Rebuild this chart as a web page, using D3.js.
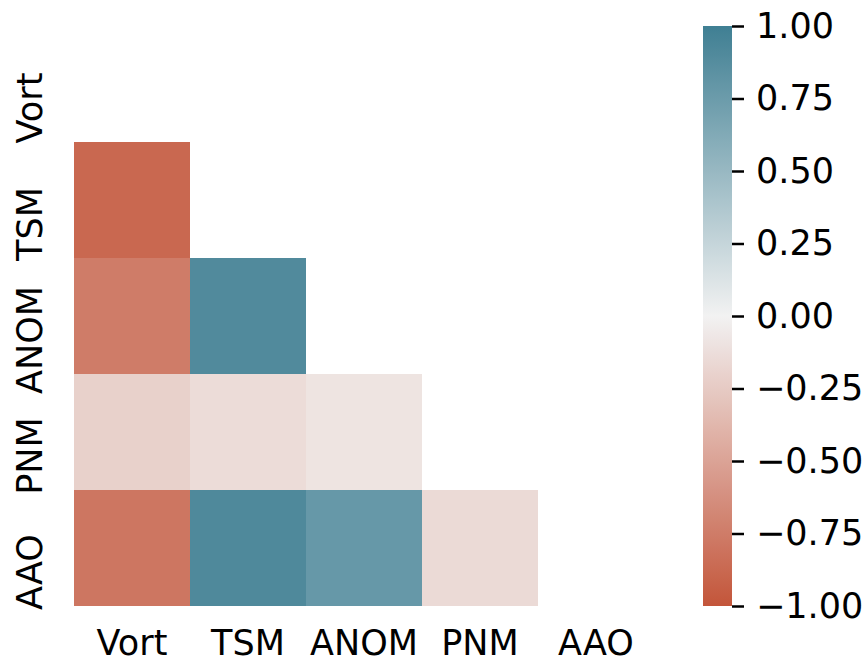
<!DOCTYPE html>
<html>
<head>
<meta charset="utf-8">
<script src="https://cdn.jsdelivr.net/npm/d3@7"></script>
<style>
  body { margin: 0; background: #fff; }
  text { font-family: "DejaVu Sans", sans-serif; font-size: 35px; fill: #000; }
</style>
</head>
<body>
<svg id="chart" width="867" height="662"></svg>
<script>
const variables = ["Vort", "TSM", "ANOM", "PNM", "AAO"];
// lower triangle of the correlation matrix, row by row (row i has i values)
const corrRows = [
  [],
  [-0.88],
  [-0.75, 0.90],
  [-0.21, -0.14, -0.09],
  [-0.79, 0.91, 0.78, -0.15]
];
const cbarTicks = [-1, -0.75, -0.5, -0.25, 0, 0.25, 0.5, 0.75, 1];

const svg = d3.select("#chart");

const x = d3.scaleBand().domain(variables).range([74, 654]);
const y = d3.scaleBand().domain(variables).range([26, 606]);

// diverging palette, blended in rgb like seaborn's diverging_palette(20, 220)
const color = d3.scaleLinear()
  .domain([-1, -0.5, 0, 0.5, 1])
  .range(["#c3553a", "#dba396", "#f2f2f2", "#98b8c2", "#3f7f93"])
  .interpolate(d3.interpolateRgb);

const cells = [];
corrRows.forEach((row, i) => {
  row.forEach((v, j) => cells.push({ row: variables[i], col: variables[j], value: v }));
});

svg.append("g").attr("class", "cells")
  .selectAll("rect")
  .data(cells)
  .enter().append("rect")
  .attr("x", (d) => x(d.col))
  .attr("y", (d) => y(d.row))
  .attr("width", x.bandwidth())
  .attr("height", y.bandwidth())
  .attr("fill", (d) => color(d.value));

// x labels
svg.append("g").selectAll("text")
  .data(variables)
  .enter().append("text")
  .attr("x", (d) => x(d) + x.bandwidth() / 2)
  .attr("y", 655)
  .attr("text-anchor", "middle")
  .text((d) => d);

// y labels, rotated (sit a bit below the row centre like the original)
svg.append("g").selectAll("text")
  .data(variables)
  .enter().append("text")
  .attr("transform", (d) => `translate(42,${y(d) + y.bandwidth() / 2 + 24}) rotate(-90)`)
  .attr("text-anchor", "middle")
  .text((d) => d);

// colorbar
const cbX = 703, cbW = 29;
const cbScale = d3.scaleLinear().domain([-1, 1]).range([606, 26]);

const grad = svg.append("defs").append("linearGradient")
  .attr("id", "cbarGrad")
  .attr("x1", 0).attr("y1", 1).attr("x2", 0).attr("y2", 0);
grad.selectAll("stop")
  .data(d3.range(0, 1.0001, 0.05))
  .enter().append("stop")
  .attr("offset", (t) => t)
  .attr("stop-color", (t) => color(-1 + 2 * t));

svg.append("rect")
  .attr("x", cbX).attr("y", cbScale(1))
  .attr("width", cbW).attr("height", cbScale(-1) - cbScale(1))
  .attr("fill", "url(#cbarGrad)");

const cbAxis = d3.axisRight(cbScale)
  .tickValues(cbarTicks)
  .tickSize(12)
  .tickPadding(12)
  .tickFormat((d) => d3.format(".2f")(d).replace("-", "\u2212"));

const cbG = svg.append("g")
  .attr("transform", `translate(${cbX + cbW},0)`)
  .call(cbAxis);
cbG.select(".domain").remove();
cbG.selectAll(".tick line").attr("stroke", "#000").attr("stroke-width", 2.5);
cbG.selectAll(".tick text")
  .attr("font-family", "DejaVu Sans")
  .attr("font-size", 35)
  .attr("fill", "#000");
</script>
</body>
</html>
